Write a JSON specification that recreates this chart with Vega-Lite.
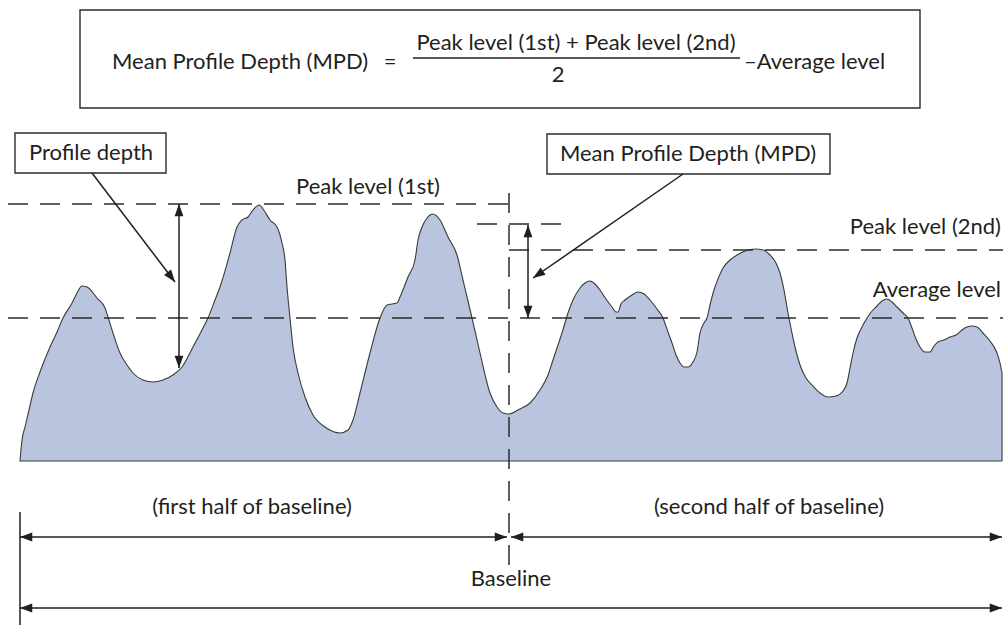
{
  "$schema": "https://vega.github.io/schema/vega-lite/v6.json",
  "width": 1003,
  "height": 625,
  "autosize": "none",
  "padding": 0,
  "background": "white",
  "config": {"view": {"stroke": null}, "axis": {"disable": true}},
  "datasets": {
    "profile": [
      {"x":20,"y":461},{"x":22,"y":440},{"x":25,"y":427},{"x":29,"y":410},{"x":33,"y":393},{"x":40,"y":372},{"x":50,"y":347},{"x":57,"y":332},{"x":63,"y":318},
      {"x":72,"y":303},{"x":77,"y":293},{"x":82,"y":286},{"x":87,"y":287},{"x":97,"y":298},{"x":105,"y":308},{"x":108,"y":317},{"x":113,"y":333},{"x":120,"y":353},{"x":127,"y":365},
      {"x":133,"y":373},{"x":143,"y":380},{"x":153,"y":382},{"x":163,"y":380},{"x":173,"y":375},{"x":182,"y":367},{"x":193,"y":347},{"x":203,"y":328},{"x":208,"y":318},{"x":215,"y":300},{"x":220,"y":287},
      {"x":230,"y":253},{"x":237,"y":227},{"x":242,"y":220},{"x":248,"y":217},{"x":253,"y":210},{"x":259,"y":205},{"x":265,"y":212},{"x":270,"y":220},{"x":277,"y":227},{"x":282,"y":243},{"x":285,"y":260},
      {"x":287,"y":287},{"x":290,"y":318},{"x":293,"y":347},{"x":298,"y":373},{"x":305,"y":397},{"x":313,"y":415},{"x":325,"y":427},{"x":340,"y":433},{"x":348,"y":430},{"x":353,"y":420},{"x":360,"y":393},{"x":370,"y":353},
      {"x":380,"y":318},{"x":387,"y":305},{"x":397,"y":303},{"x":400,"y":297},{"x":408,"y":277},{"x":415,"y":260},{"x":418,"y":240},{"x":422,"y":227},{"x":427,"y":218},{"x":433,"y":214},{"x":440,"y":220},{"x":448,"y":237},{"x":457,"y":255},{"x":463,"y":280},
      {"x":472,"y":318},{"x":480,"y":353},{"x":490,"y":393},{"x":497,"y":407},{"x":503,"y":413},{"x":509,"y":414},{"x":518,"y":410},{"x":530,"y":403},
      {"x":540,"y":390},{"x":548,"y":375},{"x":553,"y":360},{"x":558,"y":345},{"x":562,"y":333},{"x":568,"y":313},{"x":573,"y":300},{"x":580,"y":288},{"x":585,"y":283},{"x":590,"y":281},{"x":595,"y":284},{"x":600,"y":290},{"x":606,"y":299},{"x":612,"y":307},{"x":616,"y":312},{"x":618,"y":312},{"x":621,"y":304},{"x":625,"y":300},{"x":632,"y":295},{"x":638,"y":292},{"x":644,"y":294},{"x":650,"y":300},{"x":657,"y":309},{"x":663,"y":318},{"x":668,"y":332},{"x":672,"y":343},{"x":676,"y":355},{"x":680,"y":363},{"x":684,"y":367},{"x":688,"y":367},{"x":693,"y":362},{"x":697,"y":352},{"x":700,"y":333},{"x":704,"y":323},{"x":707,"y":318},{"x":710,"y":305},{"x":714,"y":290},{"x":718,"y":279},{"x":723,"y":268},{"x":730,"y":260},{"x":737,"y":255},{"x":745,"y":251},{"x":755,"y":249},{"x":763,"y":250},{"x":770,"y":255},{"x":776,"y":263},{"x":780,"y":273},{"x":784,"y":290},{"x":788,"y":313},{"x":792,"y":333},{"x":795,"y":347},{"x":800,"y":365},{"x":806,"y":378},{"x":812,"y":385},{"x":820,"y":393},{"x":828,"y":397},{"x":836,"y":396},{"x":843,"y":391},{"x":847,"y":383},{"x":850,"y":368},{"x":853,"y":353},{"x":857,"y":338},{"x":862,"y":327},{"x":867,"y":318},{"x":872,"y":311},{"x":877,"y":306},{"x":882,"y":301},{"x":887,"y":299},{"x":892,"y":302},{"x":897,"y":307},{"x":903,"y":313},{"x":908,"y":318},{"x":912,"y":328},{"x":916,"y":339},{"x":920,"y":347},{"x":925,"y":352},{"x":930,"y":352},{"x":934,"y":346},{"x":938,"y":342},{"x":944,"y":340},{"x":950,"y":337},{"x":956,"y":335},{"x":962,"y":330},{"x":967,"y":327},{"x":972,"y":326},{"x":977,"y":327},{"x":983,"y":333},{"x":990,"y":341},{"x":997,"y":353},{"x":1000,"y":363},{"x":1002,"y":373}
    ],
    "boxes": [
      {"x":80,"x2":920,"y":10,"y2":108},
      {"x":15,"x2":166,"y":133,"y2":173},
      {"x":547,"x2":830,"y":134,"y2":174}
    ],
    "levels": [
      {"name":"Peak level (1st)","x":8,"x2":509,"y":204},
      {"name":"Peak level (2nd)","x":509,"x2":1003,"y":250},
      {"name":"Average level","x":8,"x2":1003,"y":318},
      {"name":"Mean of peaks","x":477,"x2":562,"y":224}
    ],
    "vlines": [
      {"x":509,"y":193,"y2":565}
    ],
    "segments": [
      {"x":179,"x2":179,"y":204,"y2":368},
      {"x":528,"x2":528,"y":225,"y2":318},
      {"x":92,"x2":175,"y":173,"y2":282},
      {"x":683,"x2":533,"y":174,"y2":278},
      {"x":20,"x2":507,"y":537,"y2":537},
      {"x":511,"x2":1002,"y":537,"y2":537},
      {"x":20,"x2":1002,"y":608,"y2":608},
      {"x":20,"x2":20,"y":512,"y2":625}
    ],
    "headsRight": [{"x":507,"y":537},{"x":1002,"y":537},{"x":1002,"y":608}],
    "headsLeft": [{"x":20,"y":537},{"x":511,"y":537},{"x":20,"y":608}],
    "headsUp": [{"x":179,"y":204},{"x":528,"y":225}],
    "headsDown": [{"x":179,"y":368},{"x":528,"y":318}],
    "headsProfile": [{"x":175,"y":282}],
    "headsMPD": [{"x":533,"y":278}],
    "textCenter": [
      {"x":390,"y":62,"text":"="},
      {"x":576,"y":43,"text":"Peak level (1st) + Peak level (2nd)"},
      {"x":558,"y":75,"text":"2"},
      {"x":91,"y":153,"text":"Profile depth"},
      {"x":688,"y":154,"text":"Mean Profile Depth (MPD)"},
      {"x":368,"y":187,"text":"Peak level (1st)"},
      {"x":252,"y":507,"text":"(first half of baseline)"},
      {"x":769,"y":507,"text":"(second half of baseline)"},
      {"x":511,"y":579,"text":"Baseline"}
    ],
    "textLeft": [
      {"x":112,"y":62,"text":"Mean Profile Depth (MPD)"},
      {"x":744,"y":62,"text":"–Average level"}
    ],
    "textRight": [
      {"x":1001,"y":227,"text":"Peak level (2nd)"},
      {"x":1001,"y":290,"text":"Average level"}
    ],
    "fraction": [{"x":413,"x2":740,"y":58}]
  },
  "layer": [
    {
      "data": {"name": "profile"},
      "mark": {"type": "area", "interpolate": "monotone", "fill": "#b9c5de", "stroke": "#3a3a3a", "strokeWidth": 1.1, "fillOpacity": 1},
      "encoding": {
        "x": {"field": "x", "type": "quantitative", "scale": {"domain": [0, 1003], "nice": false, "zero": false}, "axis": null},
        "y": {"field": "y", "type": "quantitative", "scale": {"domain": [0, 625], "nice": false, "zero": false, "reverse": true}, "axis": null},
        "y2": {"datum": 461}
      }
    },
    {
      "data": {"name": "boxes"},
      "mark": {"type": "rect", "fill": "white", "fillOpacity": 0, "stroke": "#2b2b2b", "strokeWidth": 1.4},
      "encoding": {
        "x": {"field": "x", "type": "quantitative"},
        "x2": {"field": "x2"},
        "y": {"field": "y", "type": "quantitative"},
        "y2": {"field": "y2"}
      }
    },
    {
      "data": {"name": "levels"},
      "mark": {"type": "rule", "stroke": "#2b2b2b", "strokeWidth": 1.5, "strokeDash": [20, 12]},
      "encoding": {
        "x": {"field": "x", "type": "quantitative"},
        "x2": {"field": "x2"},
        "y": {"field": "y", "type": "quantitative"}
      }
    },
    {
      "data": {"name": "vlines"},
      "mark": {"type": "rule", "stroke": "#2b2b2b", "strokeWidth": 1.5, "strokeDash": [20, 12]},
      "encoding": {
        "x": {"field": "x", "type": "quantitative"},
        "y": {"field": "y", "type": "quantitative"},
        "y2": {"field": "y2"}
      }
    },
    {
      "data": {"name": "segments"},
      "mark": {"type": "rule", "stroke": "#1f1f1f", "strokeWidth": 1.5},
      "encoding": {
        "x": {"field": "x", "type": "quantitative"},
        "x2": {"field": "x2"},
        "y": {"field": "y", "type": "quantitative"},
        "y2": {"field": "y2"}
      }
    },
    {
      "data": {"name": "fraction"},
      "mark": {"type": "rule", "stroke": "#1f1f1f", "strokeWidth": 1.5},
      "encoding": {
        "x": {"field": "x", "type": "quantitative"},
        "x2": {"field": "x2"},
        "y": {"field": "y", "type": "quantitative"}
      }
    },
    {
      "data": {"name": "headsRight"},
      "mark": {"type": "point", "shape": "M0,0L-1,-0.36L-1,0.36Z", "size": 600, "filled": true, "fill": "#1f1f1f", "opacity": 1, "strokeWidth": 0, "angle": 0},
      "encoding": {"x": {"field": "x", "type": "quantitative"}, "y": {"field": "y", "type": "quantitative"}}
    },
    {
      "data": {"name": "headsLeft"},
      "mark": {"type": "point", "shape": "M0,0L-1,-0.36L-1,0.36Z", "size": 600, "filled": true, "fill": "#1f1f1f", "opacity": 1, "strokeWidth": 0, "angle": 180},
      "encoding": {"x": {"field": "x", "type": "quantitative"}, "y": {"field": "y", "type": "quantitative"}}
    },
    {
      "data": {"name": "headsUp"},
      "mark": {"type": "point", "shape": "M0,0L-1,-0.36L-1,0.36Z", "size": 600, "filled": true, "fill": "#1f1f1f", "opacity": 1, "strokeWidth": 0, "angle": 270},
      "encoding": {"x": {"field": "x", "type": "quantitative"}, "y": {"field": "y", "type": "quantitative"}}
    },
    {
      "data": {"name": "headsDown"},
      "mark": {"type": "point", "shape": "M0,0L-1,-0.36L-1,0.36Z", "size": 600, "filled": true, "fill": "#1f1f1f", "opacity": 1, "strokeWidth": 0, "angle": 90},
      "encoding": {"x": {"field": "x", "type": "quantitative"}, "y": {"field": "y", "type": "quantitative"}}
    },
    {
      "data": {"name": "headsProfile"},
      "mark": {"type": "point", "shape": "M0,0L-1,-0.36L-1,0.36Z", "size": 600, "filled": true, "fill": "#1f1f1f", "opacity": 1, "strokeWidth": 0, "angle": 52.7},
      "encoding": {"x": {"field": "x", "type": "quantitative"}, "y": {"field": "y", "type": "quantitative"}}
    },
    {
      "data": {"name": "headsMPD"},
      "mark": {"type": "point", "shape": "M0,0L-1,-0.36L-1,0.36Z", "size": 600, "filled": true, "fill": "#1f1f1f", "opacity": 1, "strokeWidth": 0, "angle": 145.3},
      "encoding": {"x": {"field": "x", "type": "quantitative"}, "y": {"field": "y", "type": "quantitative"}}
    },
    {
      "data": {"name": "textCenter"},
      "mark": {"type": "text", "font": "Lato", "fontSize": 22, "align": "center", "baseline": "middle", "fill": "#231f20"},
      "encoding": {"x": {"field": "x", "type": "quantitative"}, "y": {"field": "y", "type": "quantitative"}, "text": {"field": "text"}}
    },
    {
      "data": {"name": "textLeft"},
      "mark": {"type": "text", "font": "Lato", "fontSize": 22, "align": "left", "baseline": "middle", "fill": "#231f20"},
      "encoding": {"x": {"field": "x", "type": "quantitative"}, "y": {"field": "y", "type": "quantitative"}, "text": {"field": "text"}}
    },
    {
      "data": {"name": "textRight"},
      "mark": {"type": "text", "font": "Lato", "fontSize": 22, "align": "right", "baseline": "middle", "fill": "#231f20"},
      "encoding": {"x": {"field": "x", "type": "quantitative"}, "y": {"field": "y", "type": "quantitative"}, "text": {"field": "text"}}
    }
  ]
}
